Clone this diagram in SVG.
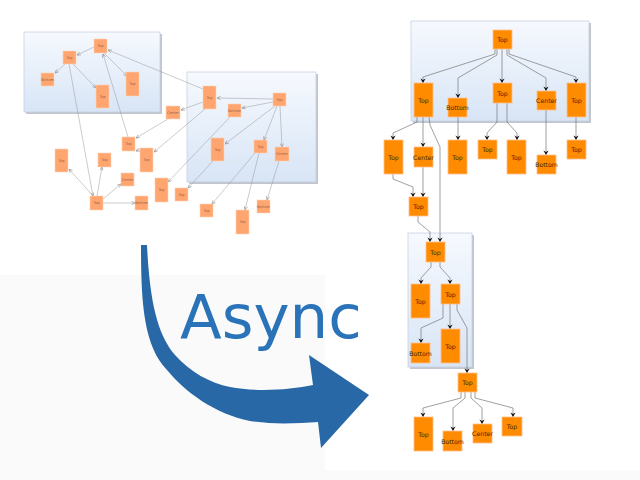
<svg xmlns="http://www.w3.org/2000/svg" width="640" height="480" viewBox="0 0 640 480">
<defs>
<linearGradient id="cg" x1="0" y1="0" x2="0" y2="1">
<stop offset="0" stop-color="#f6f9fe"/>
<stop offset="1" stop-color="#d8e5f6"/>
</linearGradient>
<marker id="al" viewBox="-4 -2 4 4" markerWidth="4" markerHeight="4" refX="0" refY="0" orient="auto" markerUnits="userSpaceOnUse">
<path d="M-3.5,-1.6 L0,0 L-3.5,1.6" fill="none" stroke="#888" stroke-width="0.6"/>
</marker>
<marker id="ar" viewBox="-5 -3 5 6" markerWidth="5" markerHeight="6" refX="0" refY="0" orient="auto" markerUnits="userSpaceOnUse">
<path d="M-4.5,-2.6 L0,0 L-4.5,2.6 L-3,0 Z" fill="#111"/>
</marker>
</defs>
<style>
.cont{fill:url(#cg);stroke:#c5d2e3;stroke-width:0.8}
.shd{fill:#a8adb5;opacity:0.7}
.ln{fill:#ffa570;stroke:#ffd2b4;stroke-width:0.6}
.rn{fill:#ff8c00;stroke:#ffbf8c;stroke-width:0.8}
.lt{font-family:"DejaVu Sans",sans-serif;font-size:3.6px;fill:#9a6448;text-anchor:middle;dominant-baseline:central}
.rt{font-family:"DejaVu Sans",sans-serif;font-size:6.2px;fill:#4a2600;text-anchor:middle;dominant-baseline:central}
.le{fill:none;stroke:#999;stroke-width:0.5;marker-end:url(#al)}
.re{fill:none;stroke:#777;stroke-width:0.7;marker-end:url(#ar)}
</style>
<rect x="0" y="0" width="640" height="480" fill="#ffffff"/>
<rect x="0" y="275" width="325" height="205" fill="#fafafa"/>
<rect x="325" y="470" width="315" height="10" fill="#fafafa"/>

<g id="async-arrow">
<path d="M141,245 C141,300 143,345 167,370 C185,392 215,414 250,421 C275,425 300,423 318,422 L321,448 L369,395 L309,355 L313,385 C290,390 255,392 230,387 C210,383 190,372 175,355 C160,337 150,310 147,245 Z" fill="#2868a6"/>
</g>
<text id="async-label" x="180" y="338" font-family="DejaVu Sans, sans-serif" font-size="61" fill="#2b73b8">Async</text>

<g id="containers">
<rect class="shd" x="26" y="34" width="136" height="80"/>
<rect class="cont" x="24" y="32" width="136" height="80"/>
<rect class="shd" x="189" y="74" width="129" height="110"/>
<rect class="cont" x="187" y="72" width="129" height="110"/>
<rect class="shd" x="413" y="23" width="178" height="100"/>
<rect class="cont" x="411" y="21" width="178" height="100"/>
<rect class="shd" x="410" y="235" width="64" height="134"/>
<rect class="cont" x="408" y="233" width="64" height="134"/>
</g>

<g id="connectors">
<path class="le" d="M94,47 L77,55"/>
<path class="le" d="M65,64 L55,73"/>
<path class="le" d="M73,64 L96,88"/>
<path class="le" d="M104,53 L127,76"/>
<path class="le" d="M69,64 L93,196"/>
<path class="le" d="M128,137 L103,54"/>
<path class="le" d="M203,89 L108,50"/>
<path class="le" d="M203,102 L181,110"/>
<path class="le" d="M168,119 L136,138"/>
<path class="le" d="M205,109 L154,152"/>
<path class="le" d="M230,117 L168,182"/>
<path class="le" d="M273,99 L217,98"/>
<path class="le" d="M273,102 L242,108"/>
<path class="le" d="M275,106 L225,144"/>
<path class="le" d="M277,106 L264,140"/>
<path class="le" d="M280,106 L282,147"/>
<path class="le" d="M213,161 L188,188"/>
<path class="le" d="M255,153 L212,204"/>
<path class="le" d="M259,153 L245,210"/>
<path class="le" d="M279,161 L267,200"/>
<path class="le" d="M141,149 L136,151"/>
<path class="le" d="M93,196 L69,169"/>
<path class="le" d="M97,196 L102,167"/>
<path class="le" d="M103,199 L121,184"/>
<path class="le" d="M103,203 L135,203"/>

<path class="re" d="M495,49 L495,54 L423,77 L423,83"/>
<path class="re" d="M497,49 L497,55 L458,78 L458,98"/>
<path class="re" d="M502,49 L502,83"/>
<path class="re" d="M507,49 L507,55 L546,78 L546,91"/>
<path class="re" d="M509,49 L509,54 L576,77 L576,83"/>
<path class="re" d="M417,117 L417,122 L393,133 L393,140"/>
<path class="re" d="M423,117 L423,147"/>
<path class="re" d="M429,117 L430,125 L440,147 L440,242"/>
<path class="re" d="M458,117 L458,140"/>
<path class="re" d="M497,103 L497,122 L487,133 L487,140"/>
<path class="re" d="M507,103 L507,122 L517,133 L517,140"/>
<path class="re" d="M546,110 L546,155"/>
<path class="re" d="M576,117 L576,140"/>
<path class="re" d="M393,174 L393,179 L413,187 L413,197"/>
<path class="re" d="M423,167 L423,197"/>
<path class="re" d="M418,216 L418,222 L430,232 L430,242"/>
<path class="re" d="M431,262 L431,267 L421,278 L421,284"/>
<path class="re" d="M440,262 L440,267 L450,278 L450,284"/>
<path class="re" d="M443,304 L443,318 L421,328 L421,343"/>
<path class="re" d="M450,304 L450,329"/>
<path class="re" d="M457,304 L457,310 L467,328 L467,373"/>
<path class="re" d="M461,392 L461,398 L423,408 L423,417"/>
<path class="re" d="M465,392 L465,398 L453,408 L453,431"/>
<path class="re" d="M471,392 L471,398 L482,408 L482,424"/>
<path class="re" d="M475,392 L475,398 L513,408 L513,417"/>
</g>

<g id="L1"><rect class="ln" x="94" y="39" width="13" height="14"/><text class="lt" x="100.5" y="46">Top</text></g>
<g id="L2"><rect class="ln" x="63" y="51" width="13" height="13"/><text class="lt" x="69.5" y="57.5">Top</text></g>
<g id="L3"><rect class="ln" x="41" y="73" width="13" height="13"/><text class="lt" x="47.5" y="79.5">Bottom</text></g>
<g id="L4"><rect class="ln" x="96" y="85" width="13" height="23"/><text class="lt" x="102.5" y="96.5">Top</text></g>
<g id="L5"><rect class="ln" x="126" y="72" width="13" height="24"/><text class="lt" x="132.5" y="84">Top</text></g>
<g id="L6"><rect class="ln" x="166" y="106" width="14" height="13"/><text class="lt" x="173" y="112.5">Center</text></g>
<g id="L7"><rect class="ln" x="203" y="86" width="13" height="23"/><text class="lt" x="209.5" y="97.5">Top</text></g>
<g id="L8"><rect class="ln" x="228" y="104" width="13" height="13"/><text class="lt" x="234.5" y="110.5">Bottom</text></g>
<g id="L9"><rect class="ln" x="273" y="93" width="13" height="13"/><text class="lt" x="279.5" y="99.5">Top</text></g>
<g id="L10"><rect class="ln" x="211" y="138" width="13" height="23"/><text class="lt" x="217.5" y="149.5">Top</text></g>
<g id="L11"><rect class="ln" x="254" y="140" width="13" height="13"/><text class="lt" x="260.5" y="146.5">Top</text></g>
<g id="L12"><rect class="ln" x="275" y="147" width="14" height="14"/><text class="lt" x="282" y="154">Center</text></g>
<g id="L13"><rect class="ln" x="122" y="137" width="13" height="14"/><text class="lt" x="128.5" y="144">Top</text></g>
<g id="L14"><rect class="ln" x="140" y="148" width="13" height="24"/><text class="lt" x="146.5" y="160">Top</text></g>
<g id="L15"><rect class="ln" x="55" y="149" width="13" height="23"/><text class="lt" x="61.5" y="160.5">Top</text></g>
<g id="L16"><rect class="ln" x="98" y="153" width="13" height="14"/><text class="lt" x="104.5" y="160">Top</text></g>
<g id="L17"><rect class="ln" x="121" y="173" width="13" height="13"/><text class="lt" x="127.5" y="179.5">Center</text></g>
<g id="L18"><rect class="ln" x="90" y="196" width="13" height="14"/><text class="lt" x="96.5" y="203">Top</text></g>
<g id="L19"><rect class="ln" x="135" y="196" width="13" height="14"/><text class="lt" x="141.5" y="203">Bottom</text></g>
<g id="L20"><rect class="ln" x="155" y="178" width="13" height="24"/><text class="lt" x="161.5" y="190">Top</text></g>
<g id="L21"><rect class="ln" x="175" y="188" width="13" height="13"/><text class="lt" x="181.5" y="194.5">Top</text></g>
<g id="L22"><rect class="ln" x="200" y="204" width="13" height="13"/><text class="lt" x="206.5" y="210.5">Top</text></g>
<g id="L23"><rect class="ln" x="236" y="210" width="13" height="24"/><text class="lt" x="242.5" y="222">Top</text></g>
<g id="L24"><rect class="ln" x="257" y="200" width="13" height="13"/><text class="lt" x="263.5" y="206.5">Bottom</text></g>

<g id="R1"><rect class="rn" x="493" y="30" width="19" height="19"/><text class="rt" x="502.5" y="39.5">Top</text></g>
<g id="R2"><rect class="rn" x="414" y="83" width="19" height="34"/><text class="rt" x="423.5" y="100">Top</text></g>
<g id="R3"><rect class="rn" x="448" y="98" width="19" height="19"/><text class="rt" x="457.5" y="107.5">Bottom</text></g>
<g id="R4"><rect class="rn" x="493" y="83" width="19" height="20"/><text class="rt" x="502.5" y="93">Top</text></g>
<g id="R5"><rect class="rn" x="537" y="91" width="19" height="19"/><text class="rt" x="546.5" y="100.5">Center</text></g>
<g id="R6"><rect class="rn" x="567" y="83" width="19" height="34"/><text class="rt" x="576.5" y="100">Top</text></g>
<g id="R7"><rect class="rn" x="384" y="140" width="19" height="34"/><text class="rt" x="393.5" y="157">Top</text></g>
<g id="R8"><rect class="rn" x="414" y="147" width="19" height="20"/><text class="rt" x="423.5" y="157">Center</text></g>
<g id="R9"><rect class="rn" x="448" y="140" width="19" height="34"/><text class="rt" x="457.5" y="157">Top</text></g>
<g id="R10"><rect class="rn" x="478" y="140" width="19" height="19"/><text class="rt" x="487.5" y="149.5">Top</text></g>
<g id="R11"><rect class="rn" x="507" y="140" width="19" height="34"/><text class="rt" x="516.5" y="157">Top</text></g>
<g id="R12"><rect class="rn" x="537" y="155" width="19" height="19"/><text class="rt" x="546.5" y="164.5">Bottom</text></g>
<g id="R13"><rect class="rn" x="567" y="140" width="19" height="19"/><text class="rt" x="576.5" y="149.5">Top</text></g>
<g id="R14"><rect class="rn" x="409" y="197" width="19" height="19"/><text class="rt" x="418.5" y="206.5">Top</text></g>
<g id="R15"><rect class="rn" x="426" y="242" width="19" height="20"/><text class="rt" x="435.5" y="252">Top</text></g>
<g id="R16"><rect class="rn" x="411" y="284" width="19" height="34"/><text class="rt" x="420.5" y="301">Top</text></g>
<g id="R17"><rect class="rn" x="441" y="284" width="19" height="20"/><text class="rt" x="450.5" y="294">Top</text></g>
<g id="R18"><rect class="rn" x="411" y="343" width="19" height="20"/><text class="rt" x="420.5" y="353">Bottom</text></g>
<g id="R19"><rect class="rn" x="441" y="329" width="19" height="34"/><text class="rt" x="450.5" y="346">Top</text></g>
<g id="R20"><rect class="rn" x="458" y="373" width="19" height="19"/><text class="rt" x="467.5" y="382.5">Top</text></g>
<g id="R21"><rect class="rn" x="414" y="417" width="19" height="34"/><text class="rt" x="423.5" y="434">Top</text></g>
<g id="R22"><rect class="rn" x="443" y="431" width="19" height="20"/><text class="rt" x="452.5" y="441">Bottom</text></g>
<g id="R23"><rect class="rn" x="473" y="424" width="19" height="19"/><text class="rt" x="482.5" y="433.5">Center</text></g>
<g id="R24"><rect class="rn" x="502" y="417" width="20" height="19"/><text class="rt" x="512" y="426.5">Top</text></g>
</svg>
